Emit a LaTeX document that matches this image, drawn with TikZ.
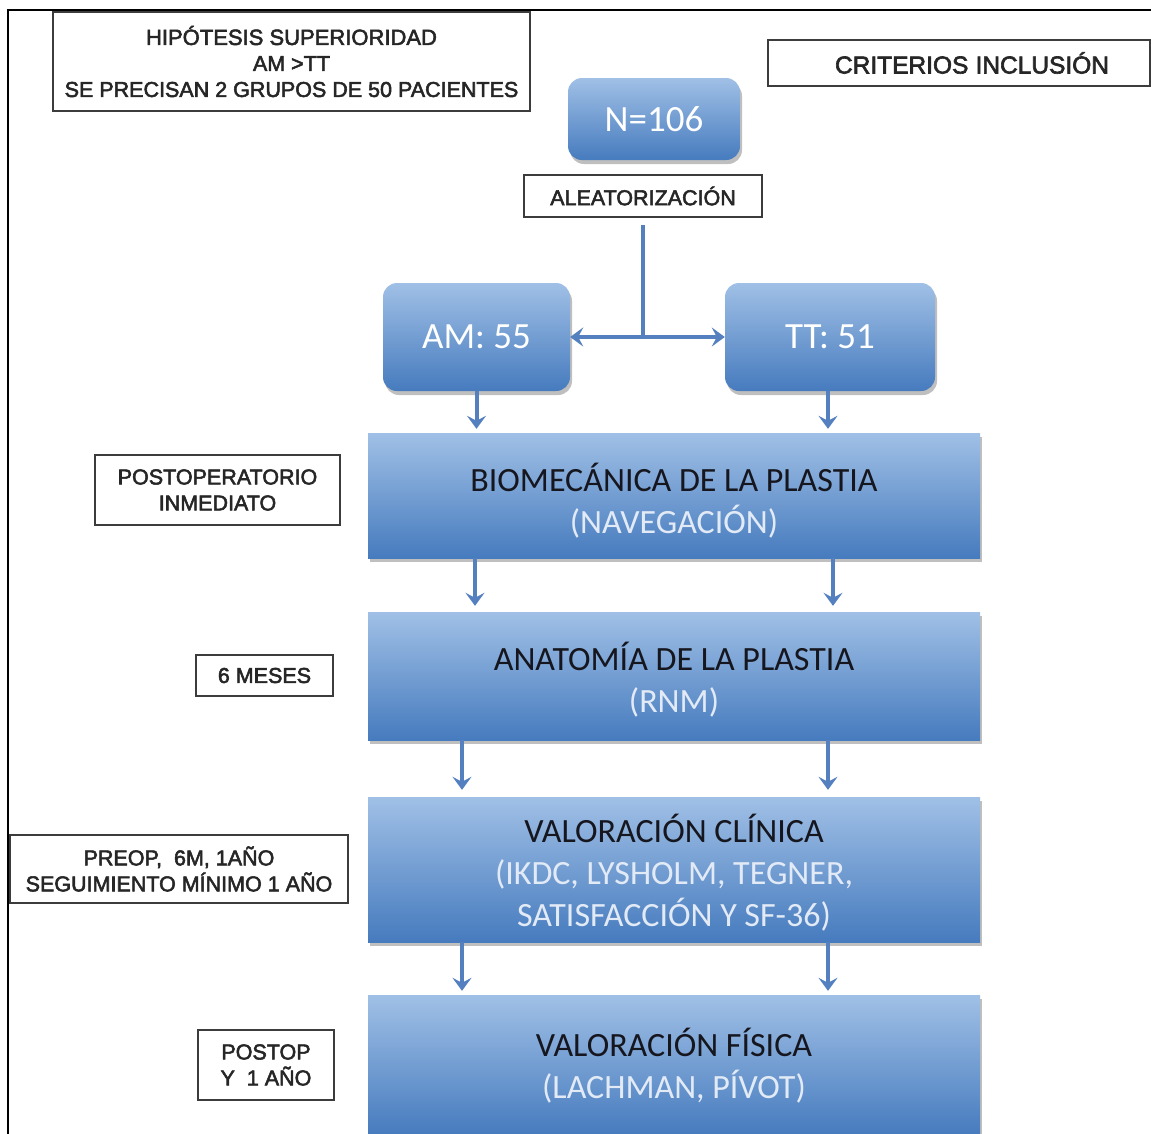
\documentclass[tikz,border=0pt]{standalone}
\usepackage{fontspec}
\setmainfont{Carlito}
\newfontfamily\labfont[FakeBold=2.5]{Liberation Sans}
\usetikzlibrary{arrows.meta,shadows,calc}
\definecolor{bluetop}{RGB}{160,192,230}
\definecolor{bluebot}{RGB}{70,123,190}
\definecolor{conncol}{RGB}{84,128,192}
\definecolor{lighttxt}{RGB}{226,234,246}
\definecolor{darktxt}{RGB}{22,22,30}
\definecolor{labline}{RGB}{60,60,60}
\newcommand\shiftdown[2]{\raisebox{-#1}[\height][\depth]{\begin{tabular}{@{}c@{}}#2\end{tabular}}}
\begin{document}
\begin{tikzpicture}[x=1pt,y=-1pt,
  bluebox/.style={top color=bluetop,bottom color=bluebot,draw=none,inner sep=0pt,
    drop shadow={shadow xshift=2pt,shadow yshift=-4pt,fill=black,opacity=0.25},
    align=center,font=\fontsize{34}{42}\selectfont},
  roundbox/.style={bluebox,rounded corners=14pt,text=white,font=\fontsize{37}{44}\selectfont},
  labbox/.style={draw=labline,line width=1.8pt,fill=white,inner sep=0pt,align=center,
    text=black!85,font=\labfont\fontsize{21.5}{26}\selectfont},
  conn/.style={draw=conncol,line width=4pt},
  arr/.style={conn,-{Stealth[length=13pt,width=19pt,inset=5pt]}},
]
\useasboundingbox (0,0) rectangle (1151,1133);
\clip (0,0) rectangle (1151,1133);
\fill[white] (0,0) rectangle (1151,1133);
% frame
\draw[black,line width=2.5pt] (1160,10) -- (8,10) -- (8,1140);

% label boxes
\node[labbox,minimum width=477pt,minimum height=99pt] (hip) at (291.5,61.5)
  {\fontsize{22}{26}\selectfont HIPÓTESIS SUPERIORIDAD\\AM >TT\\SE PRECISAN 2 GRUPOS DE 50 PACIENTES};
\node[labbox,minimum width=382pt,minimum height=46pt,text width=382pt] (crit) at (959,63)
  {\hspace*{26pt}\fontsize{24.5}{28}\selectfont CRITERIOS INCLUSIÓN};
\node[labbox,minimum width=238pt,minimum height=42pt] (alea) at (643,196)
  {ALEATORIZACIÓN};
\node[labbox,minimum width=245pt,minimum height=70pt] (post) at (217.5,490)
  {POSTOPERATORIO\\INMEDIATO};
\node[labbox,minimum width=137pt,minimum height=41pt] (mes) at (264.5,675.5)
  {6 MESES};
\node[labbox,minimum width=338pt,minimum height=68pt] (preop) at (179,869)
  {PREOP,\ \ 6M, 1AÑO\\SEGUIMIENTO MÍNIMO 1 AÑO};
\node[labbox,minimum width=136pt,minimum height=70pt] (postop) at (266,1065)
  {POSTOP\\Y\ \ 1 AÑO};

% blue boxes
\node[roundbox,minimum width=172pt,minimum height=82pt] (n) at (654,119) {N=106};
\node[roundbox,minimum width=187pt,minimum height=108pt] (am) at (476.5,337) {AM: 55};
\node[roundbox,minimum width=210pt,minimum height=108pt] (tt) at (830,337) {TT: 51};

\node[bluebox,minimum width=612pt,minimum height=125pt] (bio) at (674,495.5)
  {\shiftdown{9pt}{\color{darktxt}BIOMECÁNICA DE LA PLASTIA\\\color{lighttxt}(NAVEGACIÓN)}};
\node[bluebox,minimum width=612pt,minimum height=128pt] (ana) at (674,676)
  {\shiftdown{7pt}{\color{darktxt}ANATOMÍA DE LA PLASTIA\\\color{lighttxt}(RNM)}};
\node[bluebox,minimum width=612pt,minimum height=145pt] (clin) at (674,869.5)
  {\shiftdown{7pt}{\color{darktxt}VALORACIÓN CLÍNICA\\\color{lighttxt}(IKDC, LYSHOLM, TEGNER,\\\color{lighttxt}SATISFACCIÓN Y SF-36)}};
\node[bluebox,minimum width=612pt,minimum height=140pt] (fis) at (674,1065)
  {\shiftdown{4pt}{\color{darktxt}VALORACIÓN FÍSICA\\\color{lighttxt}(LACHMAN, PÍVOT)}};

% connectors
\coordinate (ltop) at (643,225);
\coordinate (split) at (643,337);
\coordinate (cA1) at (475,0);
\coordinate (cB1) at (833,0);
\coordinate (cA2) at (462,0);
\coordinate (cB2) at (828,0);
\draw[conn] (ltop) -- (split);
\draw[arr] (split) -- (am.east);
\draw[arr] (split) -- (tt.west);
\draw[arr,shorten >=4pt] (am.south) -- (am.south |- bio.north);
\draw[arr,shorten >=4pt] (tt.south -| cB2) -- (cB2 |- bio.north);
\draw[arr,shorten >=6pt] (bio.south -| cA1) -- (cA1 |- ana.north);
\draw[arr,shorten >=6pt] (bio.south -| cB1) -- (cB1 |- ana.north);
\draw[arr,shorten >=7pt] (ana.south -| cA2) -- (cA2 |- clin.north);
\draw[arr,shorten >=7pt] (ana.south -| cB2) -- (cB2 |- clin.north);
\draw[arr,shorten >=4pt] (clin.south -| cA2) -- (cA2 |- fis.north);
\draw[arr,shorten >=4pt] (clin.south -| cB2) -- (cB2 |- fis.north);
\end{tikzpicture}
\end{document}
